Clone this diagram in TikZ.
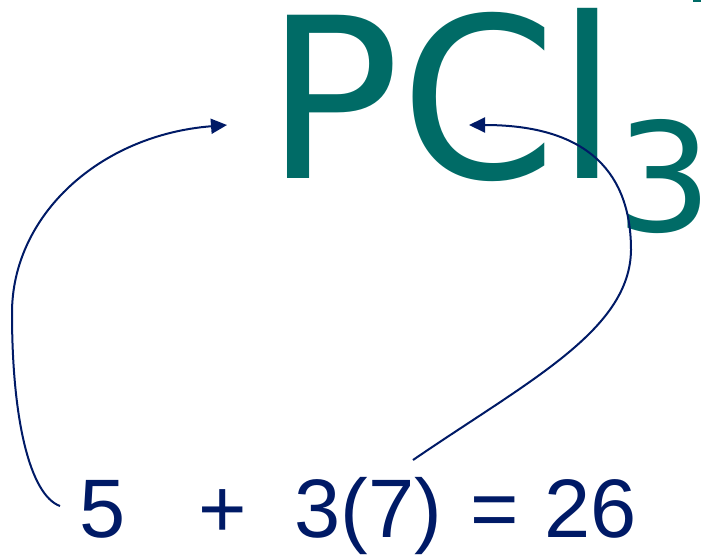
\documentclass[tikz,border=0pt]{standalone}
\usepackage{fontspec}
\setmainfont{Liberation Sans}
\newfontfamily\pclfont{DejaVu Sans}
\usetikzlibrary{arrows.meta}
\definecolor{tealc}{RGB}{0,107,102}
\definecolor{navyc}{RGB}{0,26,102}
\tikzset{
  eqtext/.style={anchor=base,inner sep=0pt,text=navyc,font=\fontsize{83}{83}\selectfont},
  formula/.style={anchor=base west,inner sep=0pt,text=tealc},
  link/.style={draw=navyc,line width=2pt,-{Triangle[length=16pt,width=15pt]}}
}
\begin{document}
\begin{tikzpicture}[x=1pt,y=-1pt]
\useasboundingbox (0,0) rectangle (701,555);
\fill[tealc] (693,0) rectangle (701,2);
% formula
\node[formula,font=\pclfont\fontsize{224}{224}\selectfont] (pcl) at (265,178) {PCl};
\node[formula,font=\pclfont\fontsize{151}{151}\selectfont] (sub3) at (616,231) {3};
% equation
\node[eqtext] (five) at (102.5,537) {5};
\node[eqtext] (plus) at (222.5,537) {+};
\node[eqtext] (three) at (368.5,537) {3(7)};
\node[eqtext] (eq) at (495,537) {=};
\node[eqtext] (sum) at (590.5,537) {26};
% connector ends
\coordinate (s1) at (60,506);
\coordinate (e1) at (227,125);
\coordinate (s2) at (413,460);
\coordinate (e2) at (469,125);
\draw[link] (s1) .. controls (30,495) and (12,420) .. (12,313)
  .. controls (12,215) and (100,135) .. (e1);
\draw[link] (s2) .. controls (530,380) and (630,330) .. (631,250)
  .. controls (631,175) and (590,125) .. (e2);
\end{tikzpicture}
\end{document}
